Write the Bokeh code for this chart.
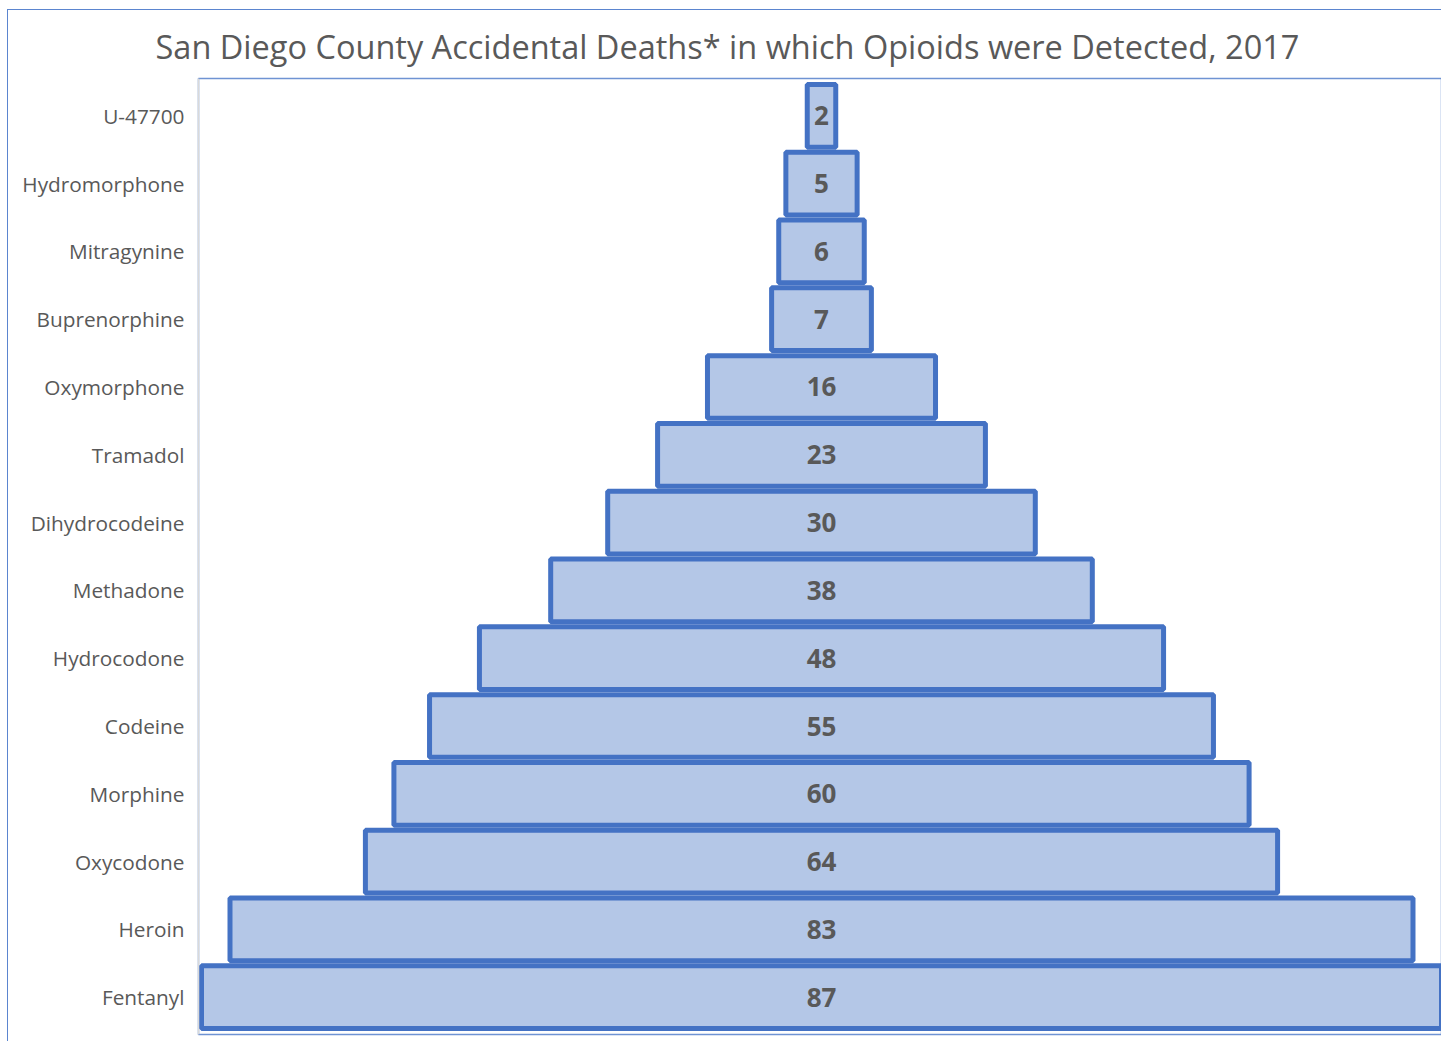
from bokeh.plotting import figure
from bokeh.models import ColumnDataSource, FactorRange, Title
from bokeh.core.properties import value
from bokeh.embed import file_html
from bokeh.resources import INLINE

# Opioids detected in accidental deaths, top of the funnel first
drugs = ["U-47700", "Hydromorphone", "Mitragynine", "Buprenorphine", "Oxymorphone",
         "Tramadol", "Dihydrocodeine", "Methadone", "Hydrocodone", "Codeine",
         "Morphine", "Oxycodone", "Heroin", "Fentanyl"]
deaths = [2, 5, 6, 7, 16, 23, 30, 38, 48, 55, 60, 64, 83, 87]

title_text = "San Diego County Accidental Deaths* in which Opioids were Detected, 2017"

source = ColumnDataSource(data=dict(
    drug=drugs,
    deaths=deaths,
    left=[-d / 2 for d in deaths],
    right=[d / 2 for d in deaths],
    label=[str(d) for d in deaths],
))

y_range = FactorRange(factors=list(reversed(drugs)), range_padding=0.05,
                      range_padding_units="absolute")

p = figure(width=1434, height=1032, y_range=y_range, x_range=(-43.71, 43.57),
           output_backend="svg", toolbar_location=None,
           min_border_left=190, min_border_right=0, min_border_top=68,
           min_border_bottom=8)
p.styles = {"margin-left": "7px", "margin-top": "9px",
            "border-left": "1.5px solid #5B85CF", "border-top": "1.5px solid #5B85CF"}

p.title = None
t = Title(text=title_text, align="left", offset=-43, text_font="Open Sans",
          text_font_size="32.5px", text_font_style="normal", text_color="#595959",
          standoff=19)
p.add_layout(t, "above")

p.hbar(y="drug", left="left", right="right", height=0.925, source=source,
       fill_color="#B4C7E7", line_color="#4472C4", line_width=5)

p.text(x=0, y="drug", text="label", source=source, text_align="center",
       text_baseline="middle", text_font=value("Open Sans"), text_font_size="26px",
       text_font_style="bold", text_color="#595959")

p.xaxis.visible = False
p.xgrid.visible = False
p.ygrid.visible = False

p.yaxis.major_tick_line_color = None
p.yaxis.minor_tick_line_color = None
p.yaxis.axis_line_color = "#D9D9D9"
p.yaxis.axis_line_width = 1.5
p.yaxis.major_label_standoff = 8
p.yaxis.major_label_text_font = "Open Sans"
p.yaxis.major_label_text_font_size = "20.8px"
p.yaxis.major_label_text_color = "#595959"

p.outline_line_color = "#6F93D3"
p.outline_line_width = 1.5
p.background_fill_color = "white"
p.border_fill_color = "white"

open("out.html", "w").write(file_html(p, INLINE))
